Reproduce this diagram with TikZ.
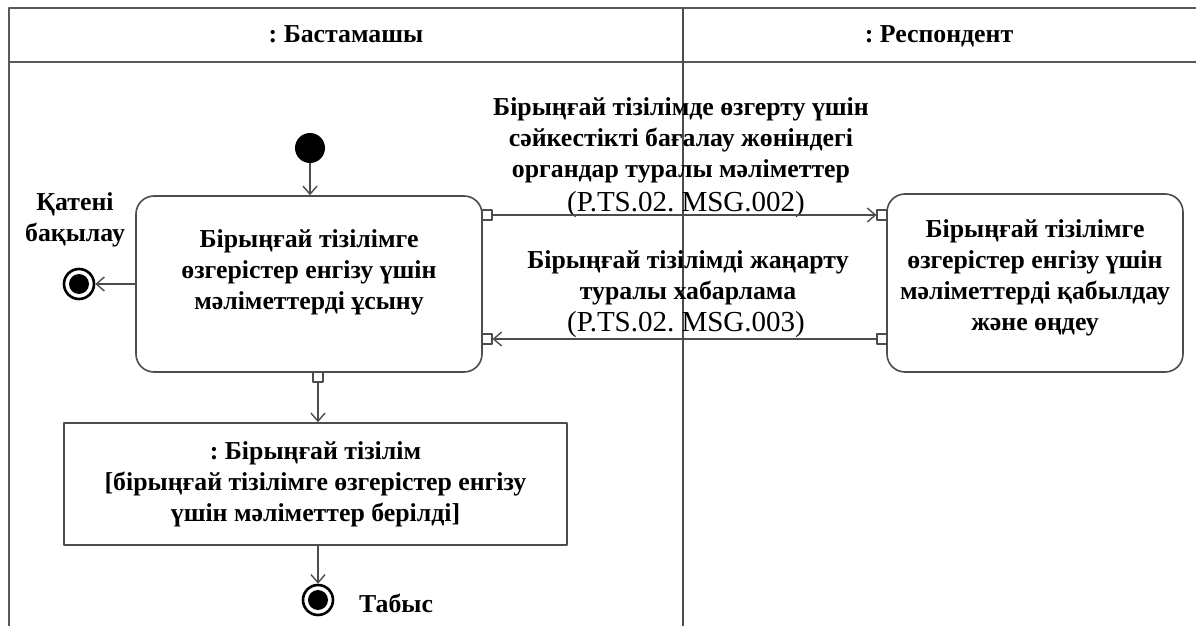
\documentclass[tikz,border=0pt]{standalone}
\usepackage{fontspec}
\setmainfont{Liberation Serif}
\usetikzlibrary{arrows.meta,positioning}
\frenchspacing
\tikzset{
  frameline/.style={draw=black!65,line width=1.2pt},
  actbox/.style={draw=black!70,line width=0.8pt,rounded corners=9pt,align=center,inner sep=0pt,fill=white},
  objbox/.style={draw=black!70,line width=0.8pt,align=center,inner sep=0pt,fill=white},
  pinbox/.style={draw=black!70,line width=0.6pt,fill=white,minimum size=5pt,inner sep=0pt},
  startdot/.style={circle,fill=black,minimum size=15pt,inner sep=0pt},
  enddot/.style={circle,draw=black,line width=1.3pt,fill=white,minimum size=15pt,inner sep=0pt},
  flow/.style={draw=black!70,line width=0.7pt,->},
  codetxt/.style={font=\fontsize{14.5}{16}\selectfont}
}
\begin{document}
\begin{tikzpicture}[x=0.5pt,y=-0.5pt,>={Straight Barb[length=4pt,width=7pt]},
  line join=round, font=\bfseries\fontsize{12.9}{15.5}\selectfont]
  \useasboundingbox (0,0) rectangle (1196,626);
  % swimlanes
  \draw[frameline] (9,626) -- (9,8) -- (1196,8);
  \draw[frameline] (9,62) -- (1196,62);
  \draw[draw=black!70,line width=0.8pt] (683,8) -- (683,626);
  \node[anchor=base] (hdrL) at (346,43) {: Бастамашы};
  \node[anchor=base] (hdrR) at (939,43) {: Респондент};
  % actions
  \node[actbox,minimum width=173pt,minimum height=88pt,
    label={[align=center,yshift=6pt]center:{Бірыңғай тізілімге\\өзгерістер енгізу үшін\\мәліметтерді ұсыну}}] (act1) at (309,284) {};
  \node[actbox,minimum width=148pt,minimum height=89pt,
    label={[align=center,yshift=2.5pt]center:{Бірыңғай тізілімге\\өзгерістер енгізу үшін\\мәліметтерді қабылдау\\және өңдеу}}] (act2) at (1035,283) {};
  \node[objbox,minimum width=251.5pt,minimum height=61pt] (obj) at (315.5,484)
    {: Бірыңғай тізілім\\{[}бірыңғай тізілімге өзгерістер енгізу\\үшін мәліметтер берілді{]}};
  % pins
  \node[pinbox] (pinOut1) at (487,215) {};
  \node[pinbox] (pinIn1) at (487,339) {};
  \node[pinbox] (pinIn2) at (882,215) {};
  \node[pinbox] (pinOut2) at (882,339) {};
  \node[pinbox] (pinBot) at (318,377) {};
  % start / ends
  \node[startdot] (init) at (310,148) {};
  \node[enddot] (endErr) at (79,284) {};
  \fill (endErr.center) circle (5pt);
  \node[enddot] (endOk) at (318,600) {};
  \fill (endOk.center) circle (5pt);
  \node[align=center] (errLbl) at (75,220) {Қатені\\бақылау};
  \node (okLbl) at (396,603) {Табыс};
  % messages
  \node[align=center] (msgA) at (681,140)
    {Бірыңғай тізілімде өзгерту үшін\\сәйкестікті бағалау жөніндегі\\органдар туралы мәліметтер};
  \node[codetxt] (codeA) at (686,205) {(P.TS.02. MSG.002)};
  \node[align=center] (msgB) at (688,278) {Бірыңғай тізілімді жаңарту\\туралы хабарлама};
  \node[codetxt] (codeB) at (686,325) {(P.TS.02. MSG.003)};
  % flows
  \draw[flow] (init) -- (act1.north -| init);
  \draw[flow] (act1.west |- endErr) -- (endErr);
  \draw[flow] (pinOut1) -- (pinIn2);
  \draw[flow] (pinOut2) -- (pinIn1);
  \draw[flow] (pinBot) -- (pinBot |- obj.north);
  \draw[flow] (obj.south -| endOk) -- (endOk);
\end{tikzpicture}
\end{document}
